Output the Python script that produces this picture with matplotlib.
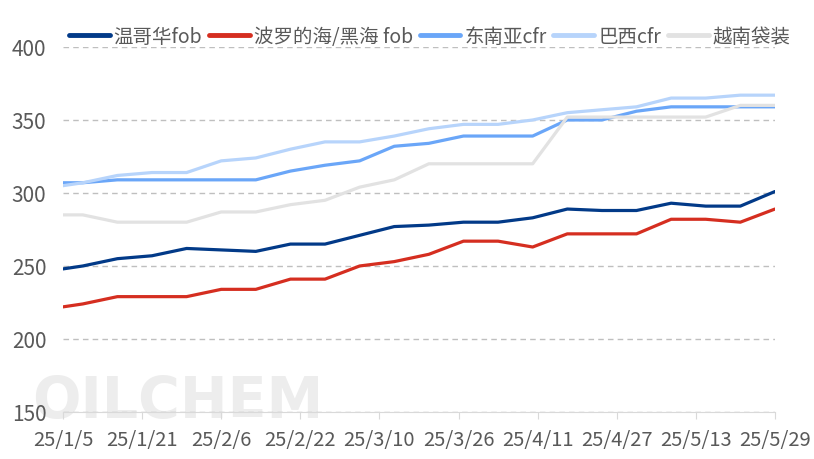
import matplotlib
matplotlib.use("Agg")
import matplotlib.pyplot as plt
import datetime as dt

plt.rcParams["font.family"] = ["Noto Sans CJK SC", "DejaVu Sans"]

dates = ["2025-01-05", "2025-01-09", "2025-01-16", "2025-01-23", "2025-01-30",
         "2025-02-06", "2025-02-13", "2025-02-20", "2025-02-27", "2025-03-06",
         "2025-03-13", "2025-03-20", "2025-03-27", "2025-04-03", "2025-04-10",
         "2025-04-17", "2025-04-24", "2025-05-01", "2025-05-08", "2025-05-15",
         "2025-05-22", "2025-05-29"]

vancouver = [248, 250, 255, 257, 262, 261, 260, 265, 265, 271, 277,
             278, 280, 280, 283, 289, 288, 288, 293, 291, 291, 301]
baltic = [222, 224, 229, 229, 229, 234, 234, 241, 241, 250, 253,
          258, 267, 267, 263, 272, 272, 272, 282, 282, 280, 289]
sea_cfr = [307, 307, 309, 309, 309, 309, 309, 315, 319, 322, 332,
           334, 339, 339, 339, 350, 350, 356, 359, 359, 359, 359]
brazil_cfr = [305, 307, 312, 314, 314, 322, 324, 330, 335, 335, 339,
              344, 347, 347, 350, 355, 357, 359, 365, 365, 367, 367]
vietnam_bag = [285, 285, 280, 280, 280, 287, 287, 292, 295, 304, 309,
               320, 320, 320, 320, 352, 352, 352, 352, 352, 360, 360]

series = [
    ("温哥华fob", vancouver, "#023A88"),
    ("波罗的海/黑海 fob", baltic, "#D52E20"),
    ("东南亚cfr", sea_cfr, "#6AA6F8"),
    ("巴西cfr", brazil_cfr, "#B7D4FB"),
    ("越南袋装", vietnam_bag, "#E2E2E2"),
]

x = [dt.datetime.strptime(d, "%Y-%m-%d") for d in dates]
text_color = "#595959"

fig = plt.figure(figsize=(8.14, 4.6), dpi=100)
ax = fig.add_axes([0.0774, 0.1022, 0.8746, 0.7935])
ax.set_facecolor("none")

# watermark behind everything
fig.text(0.04, 0.092, "OILCHEM", fontsize=41, fontweight="bold",
         color="#EDEDED", family="DejaVu Sans", zorder=-1)

for name, vals, color in series:
    ax.plot(x, vals, color=color, lw=2.3, label=name, solid_capstyle="round")

ax.set_ylim(150, 400)
ax.set_yticks([150, 200, 250, 300, 350, 400])
ax.set_xlim(x[0], x[-1])
ticks = [x[0] + dt.timedelta(days=16 * i) for i in range(10)]
ax.set_xticks(ticks)
ax.set_xticklabels([f"{t.year % 100}/{t.month}/{t.day}" for t in ticks])

ax.yaxis.grid(True, ls=(0, (4, 3)), color="#BFBFBF", lw=1)
ax.set_axisbelow(True)
for s in ["left", "right", "top"]:
    ax.spines[s].set_visible(False)
ax.spines["bottom"].set_color("#D9D9D9")
ax.tick_params(axis="y", length=0, labelsize=15, labelcolor=text_color, pad=12)
ax.tick_params(axis="x", length=5, color="#D9D9D9", labelsize=14.5,
               labelcolor=text_color, pad=7)

leg = ax.legend(loc="upper center", bbox_to_anchor=(0.515, 1.105), ncol=5,
                frameon=False, fontsize=14, handlelength=2.1,
                handletextpad=0.2, columnspacing=0.35, labelcolor=text_color)
for h in leg.get_lines():
    h.set_linewidth(3.5)

fig.savefig("out.png", dpi=100)
